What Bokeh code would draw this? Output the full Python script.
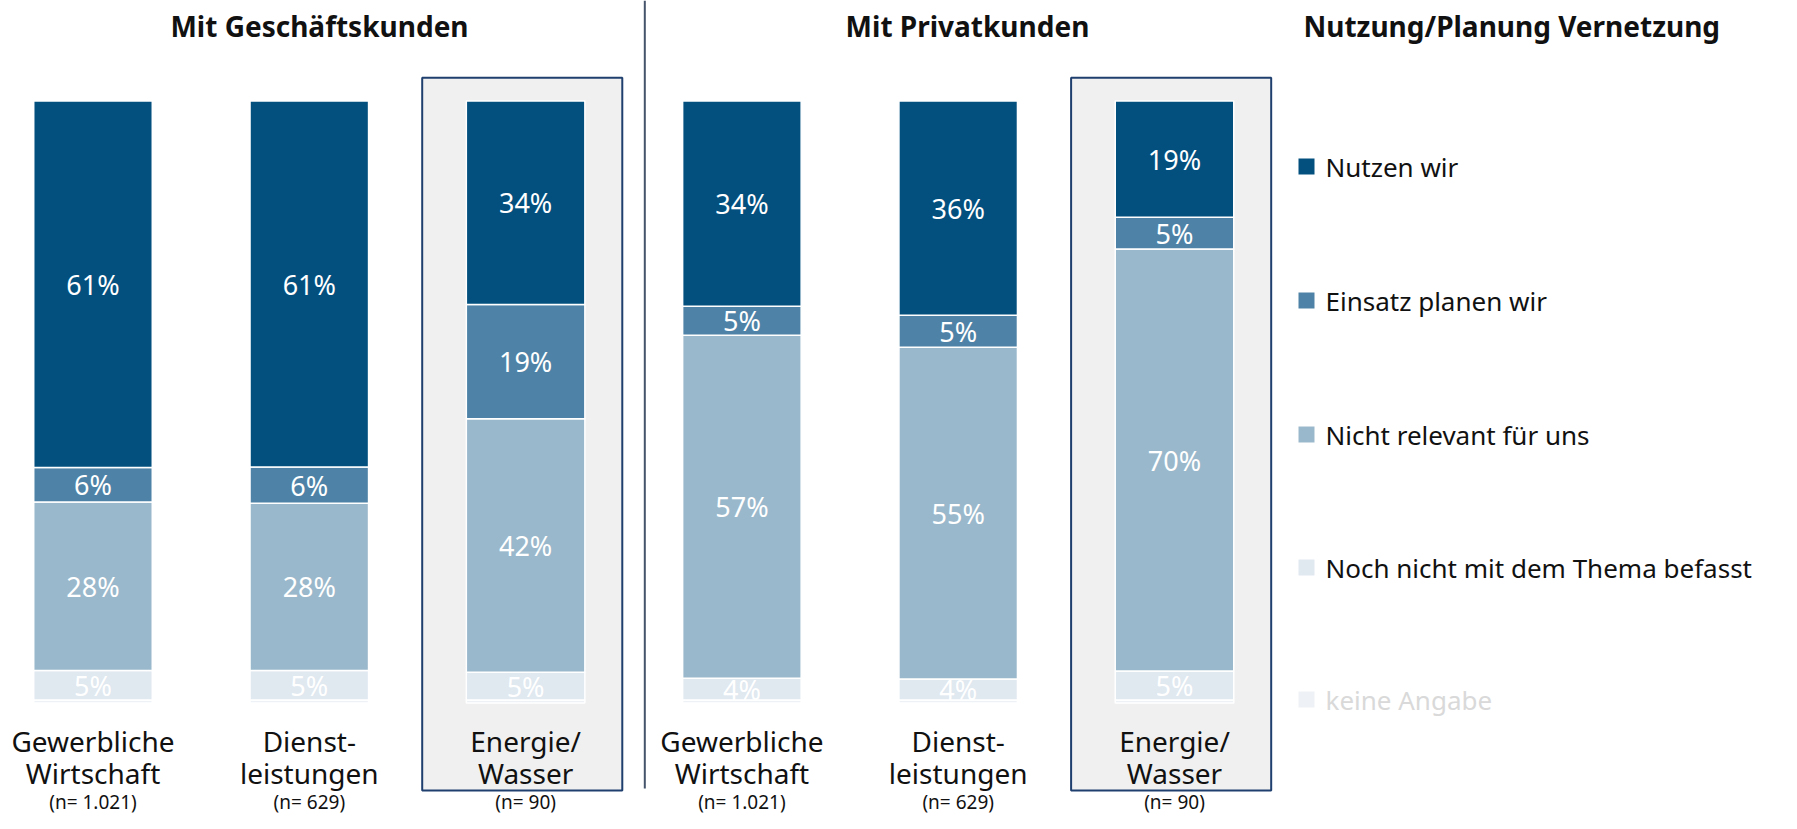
from bokeh.plotting import figure
from bokeh.models import ColumnDataSource, Range1d
from bokeh.core.properties import value
from bokeh.embed import file_html
from bokeh.resources import INLINE

# ---------------- data ----------------
groups = ["Mit Geschäftskunden", "Mit Privatkunden"]
branch_line1 = ["Gewerbliche", "Dienst-", "Energie/"]
branch_line2 = ["Wirtschaft", "leistungen", "Wasser"]
n_labels = ["(n= 1.021)", "(n= 629)", "(n= 90)"]

series = ["Nutzen wir", "Einsatz planen wir", "Nicht relevant für uns",
          "Noch nicht mit dem Thema befasst", "keine Angabe"]
colors = ["#03507F", "#4E83A7", "#9AB8CB", "#E0E8F0", "#EEF1F5"]
legend_text_colors = ["#111111", "#111111", "#111111", "#111111", "#D9D9D9"]

nutzen  = [60.9, 60.8, 33.8, 34.1, 35.6, 19.3]
einsatz = [5.7, 6.0, 19.0, 4.8, 5.3, 5.3]
nicht   = [28.0, 27.8, 42.1, 57.0, 55.1, 70.1]
noch    = [4.9, 4.9, 4.6, 3.6, 3.5, 4.8]
keine   = [0.5, 0.5, 0.5, 0.5, 0.5, 0.5]
highlight = [False, False, True, False, False, True]

# ---------------- layout ----------------
W, H = 1781, 813
x0_px, step_px = 92.5, 216.3
zero_px, px_per = 702.5, 6.02


def xi(px):
    return (px - x0_px) / step_px


def yi(px):
    return (zero_px - px) / px_per


p = figure(width=W, height=H, output_backend="svg", toolbar_location=None,
           x_range=Range1d(xi(0), xi(W)), y_range=Range1d(yi(H), yi(0)),
           min_border=0, outline_line_color=None,
           x_axis_type=None, y_axis_type=None)
p.grid.visible = False
p.background_fill_color = "white"
p.border_fill_color = "white"

n = len(nutzen)
xs = list(range(n))
FONT = value("Noto Sans")

# highlight boxes
hx = [i for i in xs if highlight[i]]
p.quad(left=[i - 0.478 for i in hx], right=[i + 0.447 for i in hx],
       top=[yi(77.3)] * len(hx), bottom=[yi(790)] * len(hx),
       fill_color="#F0F0F0", line_color="#1F3F6E", line_width=2)

# separator line
p.segment(x0=[xi(644.3)], x1=[xi(644.3)], y0=[yi(0)], y1=[yi(788)],
          line_color="#44546A", line_width=2)

# stacked bars (bottom first)
keys = ["keine", "noch", "nicht", "einsatz", "nutzen"]
src = ColumnDataSource(dict(x=xs, nutzen=nutzen, einsatz=einsatz, nicht=nicht,
                            noch=noch, keine=keine))
p.vbar_stack(keys, x="x", width=0.548, source=src,
             color=colors[::-1], line_color="white", line_width=1.5)

# segment labels
lx, ly, lt = [], [], []
for i in xs:
    bottom = 0.0
    for k, vals in zip(keys, [keine, noch, nicht, einsatz, nutzen]):
        v = vals[i]
        if k != "keine":
            lx.append(i)
            ly.append(bottom + v / 2)
            lt.append(f"{int(v + 0.5)}%")
        bottom += v
p.text(x=lx, y=ly, text=lt, text_color="white", text_font=FONT,
       text_font_size="27px", text_align="center", text_baseline="middle")

# category labels
l1 = branch_line1 * 2
l2 = branch_line2 * 2
nl = n_labels * 2
p.text(x=xs, y=[yi(740)] * n, text=l1, text_color="#111111",
       text_font=FONT, text_font_size="28px",
       text_align="center", text_baseline="middle")
p.text(x=xs, y=[yi(772)] * n, text=l2, text_color="#111111",
       text_font=FONT, text_font_size="28px",
       text_align="center", text_baseline="middle")
p.text(x=xs, y=[yi(801)] * n, text=nl, text_color="#111111",
       text_font=FONT, text_font_size="19px",
       text_align="center", text_baseline="middle")

# group titles
p.text(x=[xi(319), xi(967)], y=[yi(25)] * 2, text=groups, text_color="#111111",
       text_font=FONT, text_font_size="28px", text_font_style="bold",
       text_align="center", text_baseline="middle")

# legend
p.text(x=[xi(1303)], y=[yi(25)], text=["Nutzung/Planung Vernetzung"],
       text_color="#111111", text_font=FONT, text_font_size="28px",
       text_font_style="bold", text_align="left", text_baseline="middle")
leg_y = [yi(v) for v in (166, 300, 434, 567, 699)]
p.rect(x=[xi(1306)] * 5, y=leg_y, width=16, height=16, width_units="screen",
       height_units="screen", fill_color=colors, line_color=None)
p.text(x=[xi(1325)] * 5, y=leg_y, text=series, text_color=legend_text_colors,
       text_font=FONT, text_font_size="26px",
       text_align="left", text_baseline="middle")

open("out.html", "w").write(file_html(p, INLINE))
